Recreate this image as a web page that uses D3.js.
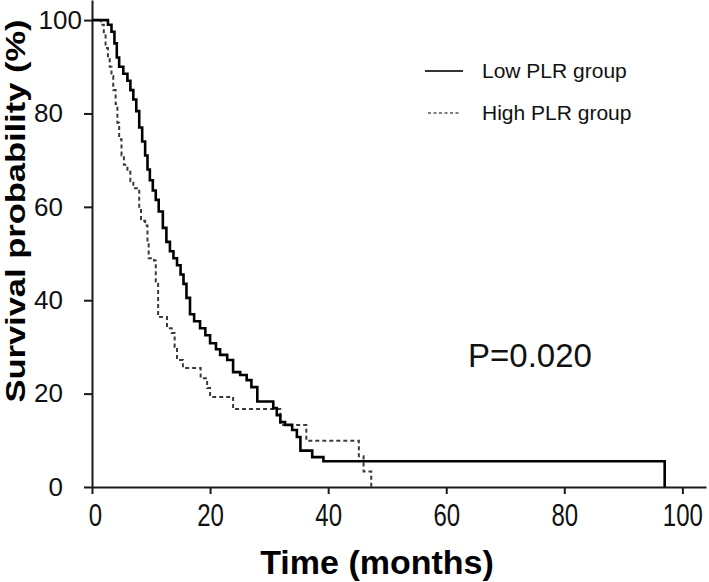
<!DOCTYPE html>
<html>
<head>
<meta charset="utf-8">
<script src="https://cdn.jsdelivr.net/npm/d3@7"></script>
<style>
  html, body { margin: 0; padding: 0; background: #fff; }
  svg { display: block; font-family: "Liberation Sans", Arial, sans-serif; }
</style>
</head>
<body>
<svg id="chart" width="709" height="582"></svg>
<script>
// ---- data ----
const lowTimes = [0, 2.7, 3.3, 3.8, 4.2, 4.6, 5.3, 6.0, 6.5, 7.0, 7.5, 8.0, 8.5, 9.0, 9.4, 9.8, 10.3, 10.8, 11.3, 12.0, 12.6, 13.2, 13.8, 14.4, 15.0, 15.5, 16.0, 16.6, 17.3, 18.3, 19.2, 20.0, 21.0, 21.7, 22.9, 23.9, 25.1, 26.2, 27.0, 28.0, 30.7, 31.3, 31.9, 32.7, 33.9, 34.7, 35.3, 37.3, 39.2, 97.0, 97.0];
const lowSurv  = [100, 99, 97.5, 95, 92, 90, 88.5, 87, 85, 83, 80.5, 77, 74, 71, 68, 65.7, 63.5, 61.5, 59, 55.5, 52.5, 50.5, 49, 47.5, 45.5, 43.5, 40.5, 37, 35.5, 34, 32.5, 30.8, 29.5, 28.3, 27.2, 24.6, 24, 22.9, 21.4, 18.3, 16.9, 15.4, 13.9, 13.3, 12.2, 10.7, 7.8, 6.4, 5.5, 5.5, 0];

const highTimes = [0, 1.5, 2.0, 2.3, 2.7, 3.0, 3.3, 3.6, 4.0, 4.3, 4.6, 5.0, 5.4, 6.0, 6.5, 7.0, 8.0, 8.3, 9.0, 9.4, 9.6, 10.5, 10.8, 11.2, 12.7, 13.5, 14.0, 14.4, 15.4, 18.4, 19.5, 20.0, 23.9, 31.9, 36.3, 45.2, 46.0, 47.3];
const highSurv  = [100, 99, 97, 94, 92, 90, 88, 85, 82, 78, 74.5, 71, 69, 67.5, 65.5, 64, 60, 57, 56, 52, 49, 48.5, 44, 36.4, 34, 33, 30, 27.2, 25.5, 23.3, 21.2, 19.3, 16.7, 13.3, 9.9, 6.6, 3.3, 0];

const xTicks = [0, 20, 40, 60, 80, 100];
const yTicks = [0, 20, 40, 60, 80, 100];
const seriesNames = ["Low PLR group", "High PLR group"];
const pText = "P=0.020";
const xTitle = "Time (months)";
const yTitle = "Survival probability (%)";

// ---- layout ----
const svg = d3.select("#chart");
const x = d3.scaleLinear().domain([0, 104]).range([92, 706]);
const y = d3.scaleLinear().domain([0, 104.3]).range([487, 0]);

const axisColor = "#1a1a1a";

// x axis
const gx = svg.append("g").attr("transform", `translate(0,${y(0)})`)
  .call(d3.axisBottom(x).tickValues(xTicks).tickSize(7).tickSizeOuter(0));
gx.selectAll("path").attr("stroke", axisColor).attr("stroke-width", 2);
gx.selectAll(".tick line").attr("stroke", axisColor).attr("stroke-width", 2);
gx.selectAll("text").attr("font-size", 24).attr("fill", "#111")
  .attr("font-family", "Liberation Sans, Arial, sans-serif")
  .attr("y", 0).attr("dy", 0)
  .attr("transform", d => `translate(${d === 0 ? 3 : 0},39) scale(1,1.28)`);

// y axis
const gy = svg.append("g").attr("transform", `translate(${x(0)},0)`)
  .call(d3.axisLeft(y).tickValues(yTicks).tickSize(8).tickSizeOuter(0).tickPadding(21));
gy.selectAll("path").attr("stroke", axisColor).attr("stroke-width", 2);
gy.selectAll(".tick line").attr("stroke", axisColor).attr("stroke-width", 2);
gy.selectAll("text").attr("font-size", 26).attr("fill", "#111")
  .attr("font-family", "Liberation Sans, Arial, sans-serif")
  .attr("dx", d => d >= 100 ? 19 : 0);

// curves
const line = d3.line().curve(d3.curveStepAfter).x(d => x(d[0])).y(d => y(d[1]));
const lowData = lowTimes.map((t, i) => [t, lowSurv[i]]);
const highData = highTimes.map((t, i) => [t, highSurv[i]]);

svg.append("path").datum(highData).attr("d", line)
  .attr("fill", "none").attr("stroke", "#3a3a3a").attr("stroke-width", 2)
  .attr("stroke-dasharray", "4,3");
svg.append("path").datum(lowData).attr("d", line)
  .attr("fill", "none").attr("stroke", "#000").attr("stroke-width", 2.6);

// legend
const lg = svg.append("g");
lg.append("line").attr("x1", 425).attr("x2", 463).attr("y1", 71).attr("y2", 71)
  .attr("stroke", "#333").attr("stroke-width", 2);
lg.append("text").attr("x", 482).attr("y", 78).attr("font-size", 21).attr("fill", "#111")
  .text(seriesNames[0]);
lg.append("line").attr("x1", 428).attr("x2", 460).attr("y1", 113).attr("y2", 113)
  .attr("stroke", "#555").attr("stroke-width", 1.5).attr("stroke-dasharray", "3,2.5");
lg.append("text").attr("x", 482).attr("y", 120).attr("font-size", 21).attr("fill", "#111")
  .text(seriesNames[1]);

// P value
svg.append("text").attr("x", 468).attr("y", 367).attr("font-size", 33).attr("fill", "#111")
  .text(pText);

// axis titles
svg.append("text").attr("x", 377).attr("y", 574).attr("text-anchor", "middle")
  .attr("font-size", 34).attr("font-weight", "bold").attr("fill", "#000").text(xTitle);
svg.append("text").attr("transform", `translate(25,211) rotate(-90)`).attr("text-anchor", "middle")
  .attr("font-size", 28).attr("font-weight", "bold").attr("fill", "#000")
  .attr("textLength", 383).attr("lengthAdjust", "spacingAndGlyphs").text(yTitle);
</script>
</body>
</html>
